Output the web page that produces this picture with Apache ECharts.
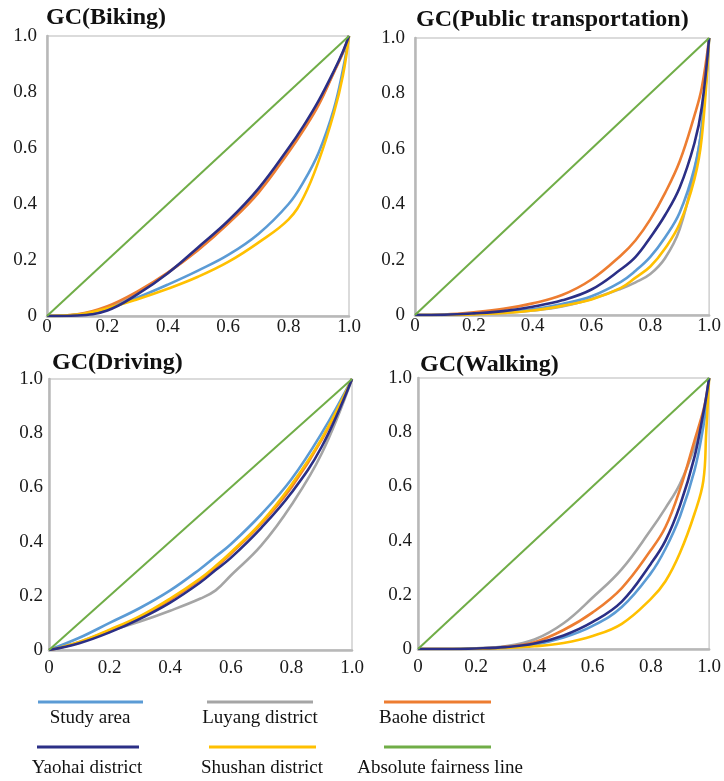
<!DOCTYPE html>
<html>
<head>
<meta charset="utf-8">
<script src="https://cdn.jsdelivr.net/npm/echarts@6/dist/echarts.min.js"></script>
<style>
  html, body { margin: 0; padding: 0; background: #fff; }
  #chart { width: 724px; height: 781px; }
</style>
</head>
<body>
<div id="chart"></div>
<script>
// series names / colours
const seriesNames = ['Study area', 'Luyang district', 'Baohe district', 'Yaohai district', 'Shushan district'];
const fairnessName = 'Absolute fairness line';

// GC(Biking)
const bikingX       = [0, 0.1, 0.2, 0.3, 0.4, 0.5, 0.6, 0.7, 0.8, 0.85, 0.9, 0.95, 0.98, 1];
const bikingStudy   = [0, 0.004, 0.026, 0.066, 0.112, 0.162, 0.218, 0.293, 0.40, 0.48, 0.585, 0.74, 0.88, 1];
const bikingLuyang  = [0, 0.004, 0.028, 0.082, 0.154, 0.238, 0.333, 0.445, 0.59, 0.67, 0.76, 0.872, 0.942, 1];
const bikingBaohe   = [0, 0.006, 0.035, 0.088, 0.155, 0.235, 0.33, 0.44, 0.585, 0.665, 0.755, 0.87, 0.94, 1];
const bikingYaohai  = [0, 0.002, 0.02, 0.078, 0.153, 0.245, 0.34, 0.455, 0.60, 0.68, 0.77, 0.875, 0.945, 1];
const bikingShushan = [0, 0.005, 0.028, 0.06, 0.097, 0.14, 0.193, 0.262, 0.345, 0.425, 0.555, 0.725, 0.86, 1];

// GC(Public transportation)
const publicX       = [0, 0.1, 0.2, 0.3, 0.4, 0.5, 0.6, 0.7, 0.75, 0.8, 0.85, 0.9, 0.95, 0.975, 1];
const publicStudy   = [0, 0.001, 0.004, 0.01, 0.021, 0.04, 0.068, 0.12, 0.16, 0.21, 0.28, 0.37, 0.53, 0.68, 1];
const publicLuyang  = [0, 0, 0.002, 0.007, 0.016, 0.031, 0.058, 0.095, 0.118, 0.148, 0.205, 0.31, 0.52, 0.68, 1];
const publicBaohe   = [0, 0.002, 0.01, 0.022, 0.042, 0.072, 0.128, 0.215, 0.27, 0.345, 0.44, 0.555, 0.72, 0.82, 1];
const publicYaohai  = [0, 0.001, 0.006, 0.014, 0.03, 0.053, 0.092, 0.165, 0.21, 0.28, 0.36, 0.46, 0.62, 0.75, 1];
const publicShushan = [0, 0, 0.002, 0.007, 0.016, 0.033, 0.056, 0.098, 0.135, 0.175, 0.24, 0.33, 0.49, 0.64, 1];

// GC(Driving)
const drivingX       = [0, 0.1, 0.2, 0.3, 0.4, 0.5, 0.55, 0.6, 0.7, 0.8, 0.9, 1];
const drivingStudy   = [0, 0.045, 0.10, 0.155, 0.22, 0.30, 0.345, 0.39, 0.50, 0.63, 0.80, 1];
const drivingLuyang  = [0, 0.03, 0.07, 0.105, 0.145, 0.19, 0.22, 0.275, 0.385, 0.535, 0.725, 1];
const drivingBaohe   = [0, 0.028, 0.072, 0.12, 0.185, 0.26, 0.305, 0.355, 0.465, 0.60, 0.775, 1];
const drivingYaohai  = [0, 0.025, 0.065, 0.115, 0.175, 0.25, 0.295, 0.34, 0.45, 0.58, 0.75, 1];
const drivingShushan = [0, 0.03, 0.075, 0.125, 0.19, 0.265, 0.31, 0.36, 0.47, 0.61, 0.78, 1];

// GC(Walking)
const walkingX       = [0, 0.1, 0.2, 0.3, 0.4, 0.5, 0.6, 0.7, 0.8, 0.85, 0.9, 0.95, 0.98, 0.99, 1];
const walkingStudy   = [0, 0, 0.002, 0.006, 0.016, 0.042, 0.085, 0.155, 0.28, 0.37, 0.49, 0.66, 0.82, 0.90, 1];
const walkingLuyang  = [0, 0, 0.003, 0.01, 0.035, 0.095, 0.19, 0.295, 0.44, 0.52, 0.61, 0.745, 0.86, 0.92, 1];
const walkingBaohe   = [0, 0, 0.002, 0.008, 0.025, 0.07, 0.135, 0.225, 0.365, 0.45, 0.59, 0.77, 0.88, 0.93, 1];
const walkingYaohai  = [0, 0, 0.002, 0.007, 0.02, 0.05, 0.10, 0.175, 0.315, 0.40, 0.53, 0.71, 0.87, 0.93, 1];
const walkingShushan = [0, 0, 0.001, 0.004, 0.01, 0.022, 0.048, 0.093, 0.185, 0.25, 0.355, 0.50, 0.62, 0.80, 1];

const fairnessX = [0, 1];
const fairnessY = [0, 1];

const colors = ['#5b9bd5', '#a5a5a5', '#ed7d31', '#2b2f86', '#ffc000'];
const fairnessColor = '#70ad47';
const serif = '"Liberation Serif", "DejaVu Serif", serif';

const panels = [
  { title: 'GC(Biking)', titlePos: [46, 6], grid: { left: 47, top: 36, width: 302, height: 280 },
    xMargin: 2, yMargin: 10, x: bikingX,
    ys: [bikingStudy, bikingLuyang, bikingBaohe, bikingYaohai, bikingShushan] },
  { title: 'GC(Public transportation)', titlePos: [416, 8], grid: { left: 415, top: 38, width: 299, height: 277 },
    xMargin: 2, yMargin: 10, x: publicX,
    ys: [publicStudy, publicLuyang, publicBaohe, publicYaohai, publicShushan] },
  { title: 'GC(Driving)', titlePos: [52, 351], grid: { left: 49, top: 379, width: 303, height: 271 },
    xMargin: 9, yMargin: 6, x: drivingX,
    ys: [drivingStudy, drivingLuyang, drivingBaohe, drivingYaohai, drivingShushan] },
  { title: 'GC(Walking)', titlePos: [420, 353], grid: { left: 418, top: 378, width: 297, height: 271 },
    xMargin: 9, yMargin: 6, x: walkingX,
    ys: [walkingStudy, walkingLuyang, walkingBaohe, walkingYaohai, walkingShushan] }
];

const fmt = v => (v === 0 ? '0' : v.toFixed(1));

const axisCommon = {
  type: 'value', min: 0, max: 1, interval: 0.2,
  splitLine: { show: false },
  axisTick: { show: false },
  axisLine: { show: true, lineStyle: { color: '#b8b8b8', width: 2.5 } }
};

const titles = [], grids = [], xAxes = [], yAxes = [], series = [];
panels.forEach((p, i) => {
  titles.push({
    text: p.title, left: p.titlePos[0], top: p.titlePos[1], padding: 0,
    textStyle: { fontFamily: serif, fontWeight: 'bold', fontSize: 24, color: '#111' }
  });
  grids.push(Object.assign({ show: true, borderColor: '#cfcfcf', borderWidth: 1.5, backgroundColor: '#fff' }, p.grid));
  xAxes.push(Object.assign({}, axisCommon, {
    gridIndex: i,
    axisLabel: { formatter: fmt, margin: p.xMargin, fontFamily: serif, fontSize: 19, color: '#1a1a1a' }
  }));
  yAxes.push(Object.assign({}, axisCommon, {
    gridIndex: i,
    axisLabel: { formatter: fmt, margin: p.yMargin, fontFamily: serif, fontSize: 19, color: '#1a1a1a' }
  }));
  // draw order: luyang, baohe, study, shushan, yaohai
  const order = [1, 2, 0, 4, 3];
  order.forEach(k => {
    series.push({
      name: seriesNames[k], type: 'line', xAxisIndex: i, yAxisIndex: i,
      data: p.x.map((xv, j) => [xv, p.ys[k][j]]),
      smooth: 0.4, showSymbol: false, silent: true,
      lineStyle: { color: colors[k], width: 2.6 }
    });
  });
  series.push({
    name: fairnessName, type: 'line', xAxisIndex: i, yAxisIndex: i,
    data: fairnessX.map((xv, j) => [xv, fairnessY[j]]),
    showSymbol: false, silent: true,
    lineStyle: { color: fairnessColor, width: 2 }
  });
});

// legend drawn as line + caption below it
const legendItems = [
  { name: seriesNames[0], color: colors[0], line: [38, 143], cx: 90, row: 0 },
  { name: seriesNames[1], color: colors[1], line: [207, 313], cx: 260, row: 0 },
  { name: seriesNames[2], color: colors[2], line: [384, 491], cx: 432, row: 0 },
  { name: seriesNames[3], color: colors[3], line: [37, 139], cx: 87, row: 1 },
  { name: seriesNames[4], color: colors[4], line: [209, 316], cx: 262, row: 1 },
  { name: fairnessName, color: fairnessColor, line: [384, 491], cx: 440, row: 1 }
];
const rowLineY = [702, 747];
const rowTextY = [718, 768];
const graphic = [];
legendItems.forEach(it => {
  graphic.push({
    type: 'line', silent: true,
    shape: { x1: it.line[0], y1: rowLineY[it.row], x2: it.line[1], y2: rowLineY[it.row] },
    style: { stroke: it.color, lineWidth: 3 }
  });
  graphic.push({
    type: 'text', silent: true, x: it.cx, y: rowTextY[it.row],
    style: { text: it.name, fill: '#111', font: '19px ' + serif, textAlign: 'center', textVerticalAlign: 'middle' }
  });
});

const chart = echarts.init(document.getElementById('chart'));
chart.setOption({
  animation: false,
  backgroundColor: '#fff',
  title: titles,
  grid: grids,
  xAxis: xAxes,
  yAxis: yAxes,
  series: series,
  graphic: graphic
});
</script>
</body>
</html>
